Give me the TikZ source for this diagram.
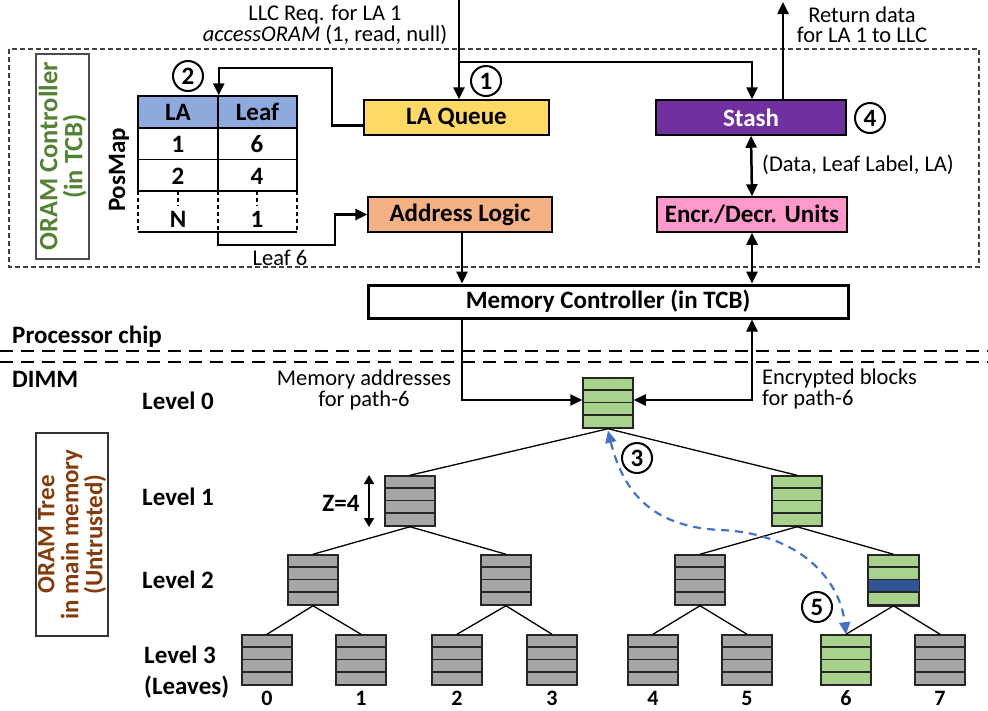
\documentclass[tikz,border=0pt]{standalone}
\usepackage{fontspec}
\setmainfont{Carlito}
\usetikzlibrary{arrows.meta}
\definecolor{laqY}{HTML}{FFD966}
\definecolor{addrO}{HTML}{F4B183}
\definecolor{stashP}{HTML}{7030A0}
\definecolor{encP}{HTML}{FF99CC}
\definecolor{hdrB}{HTML}{8EA9DB}
\definecolor{ctlG}{HTML}{548235}
\definecolor{treeBr}{HTML}{843C0C}
\definecolor{gry}{HTML}{A6A6A6}
\definecolor{grn}{HTML}{A9D18E}
\definecolor{dblue}{HTML}{2F5597}
\definecolor{curveB}{HTML}{4472C4}
\newcommand\bucketlines[1]{%
  \foreach \k in {1,2,3}{\draw[line width=1.5pt, black!85] ([yshift=-\k*12.5pt]#1.north west) -- ([yshift=-\k*12.5pt]#1.north east);}}
\newcommand\bucketat[4]{%
  \node[bucket, fill=#4] (#1) at (#2,#3) {};
  \bucketlines{#1}}
\begin{document}
\begin{tikzpicture}[x=1pt,y=-1pt,
  lbl/.style={font=\fontsize{22.5}{20.5}\selectfont, inner sep=0, align=center},
  blbl/.style={font=\bfseries\fontsize{25}{26}\selectfont, inner sep=0},
  unit/.style={draw, line width=1.5pt, inner sep=0, font=\bfseries\fontsize{25}{26}\selectfont},
  arr/.style={line width=2.5pt, -{Triangle[length=12pt,width=11pt]}},
  darr/.style={line width=2.5pt, {Triangle[length=12pt,width=11pt]}-{Triangle[length=12pt,width=11pt]}},
  num/.style={circle, draw, line width=2pt, inner sep=0, minimum size=30pt, font=\bfseries\fontsize{25}{25}\selectfont},
  bucket/.style={draw=black!85, line width=1.5pt, minimum width=50pt, minimum height=50pt, inner sep=0},
  edge/.style={line width=1.3pt},
  cell/.style={inner sep=0, font=\bfseries\fontsize{25}{26}\selectfont},
]
\useasboundingbox (0,0) rectangle (988,710);

% ORAM controller region
\draw[dash pattern=on 5pt off 3pt, line width=1.2pt, black!75] (9,49) rectangle (979,267);
\node[draw=black!70, line width=1.2pt, rotate=90, minimum width=205, minimum height=53, inner sep=0, align=center,
      text=ctlG, font=\bfseries\fontsize{26.5}{25}\selectfont] (ctl) at (62.5,156.5) {ORAM Controller\\(in TCB)};

% top texts
\node[lbl] (req) at (325,25) {LLC Req. for LA 1\\\textit{accessORAM} (1, read, null)};
\node[lbl] (ret) at (862,25) {Return data\\for LA 1 to LLC};
\coordinate (in) at (459,0);
\coordinate (out) at (783,2);

% units
\node[unit, fill=laqY, minimum width=185, minimum height=35] (laq) at (456.5,117.5) {LA Queue};
\node[unit, fill=addrO, minimum width=184, minimum height=35] (addr) at (460,214.5) {Address Logic};
\node[unit, fill=stashP, text=white, minimum width=190, minimum height=35] (stash) at (751,117.5) {Stash};
\node[unit, fill=encP, minimum width=190, minimum height=35] (enc) at (752,214.5) {Encr./Decr. Units};
\node[unit, line width=3pt, fill=white, minimum width=480, minimum height=33] (mc) at (608,301.5) {Memory Controller (in TCB)};

% PosMap table
\node[rotate=90, cell, font=\bfseries\fontsize{25}{26}\selectfont] (pm) at (119,170) {PosMap};
\node[draw, line width=1.5pt, fill=hdrB, minimum width=80, minimum height=32, cell] (hla) at (178,112) {LA};
\node[draw, line width=1.5pt, fill=hdrB, minimum width=79, minimum height=32, cell] (hleaf) at (257.5,112) {Leaf};
\draw[line width=1.5pt] (138,128) rectangle (297,191) (138,159.5) -- (297,159.5) (218,128) -- (218,191);
\draw[line width=1.5pt] (138,232) -- (297,232);
\draw[line width=1.2pt, dash pattern=on 4pt off 3pt] (138,191) -- (138,232) (297,191) -- (297,232) (218,191) -- (218,232)
   (178,191) -- (178,206) (257,191) -- (257,206);
\node[cell] (a1) at (178,144) {1};
\node[cell] (b1) at (257,144) {6};
\node[cell] (a2) at (178,176) {2};
\node[cell] (b2) at (257,176) {4};
\node[cell] (aN) at (178,219) {N};
\node[cell] (bN) at (257,219) {1};
\coordinate (tb) at (218,232);

% connectors in controller
\draw[arr] (in) -- (in |- laq.north);
\draw[arr] (459,62) -| ([xshift=1pt]stash.north);
\draw[arr] ([xshift=32pt]stash.north) -- (out);
\draw[arr] ([yshift=-8pt]laq.west) -| (332,68) -| (hla.north east);
\draw[arr] (tb) -- (218,245) -| (335,214.5) -- (addr.west);
\draw[darr] (stash.south) -- (enc.north);
\draw[arr] ([xshift=2pt]addr.south) -- ([xshift=2pt]addr.south |- mc.north);
\draw[darr] (enc.south) -- (enc.south |- mc.north);

\node[lbl] (leaf6) at (280,258) {Leaf 6};
\node[lbl] (dl) at (858,165) {(Data, Leaf Label, LA)};
\node[num] (n1) at (486,81) {1};
\node[num] (n2) at (188,76) {2};
\node[num] (n4) at (870,118) {4};

% chip boundary
\node[blbl, anchor=west] (pc) at (12,337) {Processor chip};
\node[blbl, anchor=west] (dimm) at (12,379) {DIMM};
\draw[line width=2pt, dash pattern=on 13pt off 8pt] (0,351) -- (988,351);
\draw[line width=2pt, dash pattern=on 13pt off 8pt] (0,362) -- (988,362);

% tree box
\node[draw=black!80, line width=1.2pt, rotate=90, minimum width=203, minimum height=72, inner sep=0, align=center,
      text=treeBr, font=\bfseries\fontsize{25}{24}\selectfont] (tree) at (72,534.5) {ORAM Tree\\in main memory\\(Untrusted)};

% level labels
\node[blbl, anchor=west] (lv0) at (142,401) {Level 0};
\node[blbl, anchor=west] (lv1) at (142,497) {Level 1};
\node[blbl, anchor=west] (lv2) at (142,580) {Level 2};
\node[blbl, anchor=west, align=left, font=\bfseries\fontsize{25}{31}\selectfont] (lv3) at (144,672) {Level 3\\(Leaves)};

% buckets
\bucketat{l0}{608}{403}{grn}
\bucketat{l1a}{410}{501}{gry}
\bucketat{l1b}{797}{501}{grn}
\bucketat{l2a}{313}{580}{gry}
\bucketat{l2b}{506}{580}{gry}
\bucketat{l2c}{700}{580}{gry}
\node[bucket, fill=grn] (l2d) at (893.5,580) {};
\fill[dblue] ([yshift=-25pt]l2d.north west) rectangle ([yshift=-37.5pt]l2d.north east);
\draw[line width=1.5pt, black!85] (l2d.north west) rectangle (l2d.south east);
\bucketlines{l2d}
\bucketat{v0}{267}{660}{gry}
\bucketat{v1}{361}{660}{gry}
\bucketat{v2}{457}{660}{gry}
\bucketat{v3}{552}{660}{gry}
\bucketat{v4}{653}{660}{gry}
\bucketat{v5}{747}{660}{gry}
\bucketat{v6}{846}{660}{grn}
\bucketat{v7}{940}{660}{gry}

\draw[edge] (l0.south) -- (l1a.north) (l0.south) -- (l1b.north);
\draw[edge] (l1a.south) -- (l2a.north) (l1a.south) -- (l2b.north);
\draw[edge] (l1b.south) -- (l2c.north) (l1b.south) -- (l2d.north);
\draw[edge] (l2a.south) -- (v0.north) (l2a.south) -- (v1.north);
\draw[edge] (l2b.south) -- (v2.north) (l2b.south) -- (v3.north);
\draw[edge] (l2c.south) -- (v4.north) (l2c.south) -- (v5.north);
\draw[edge] (l2d.south) -- (v6.north) (l2d.south) -- (v7.north);

\foreach \i/\x in {0/267,1/361,2/457,3/552,4/653,5/747,6/846,7/940}{
  \node[cell, font=\bfseries\fontsize{22}{22}\selectfont] (k\i) at (\x,698) {\i};}

% memory paths
\draw[arr] ([xshift=2pt]addr.south |- mc.south) |- ([yshift=3pt]l0.west);
\draw[darr] (enc.south |- mc.south) |- ([yshift=3pt]l0.east);
\node[lbl] (ma) at (364,390) {Memory addresses\\for path-6};
\node[lbl, anchor=west, align=left] (eb) at (762,389) {Encrypted blocks\\for path-6};

% Z=4
\node[blbl] (z) at (341,503) {Z=4};
\coordinate (zt) at (369,475);
\coordinate (zb) at (369,527);
\draw[line width=2pt, {Triangle[length=9pt,width=10pt]}-{Triangle[length=9pt,width=10pt]}] (zt) -- (zb);

% dashed blue path
\draw[curveB, line width=2.2pt, dash pattern=on 8pt off 6pt, {Triangle[length=12pt,width=11pt]}-{Triangle[length=12pt,width=11pt]}]
  ([yshift=-2pt]l0.south) .. controls (625,500) and (660,527) .. (720,530) .. controls (800,533) and (840,580) .. (v6.north);
\node[num] (n3) at (637,458) {3};
\node[num] (n5) at (817,607) {5};
\end{tikzpicture}
\end{document}
